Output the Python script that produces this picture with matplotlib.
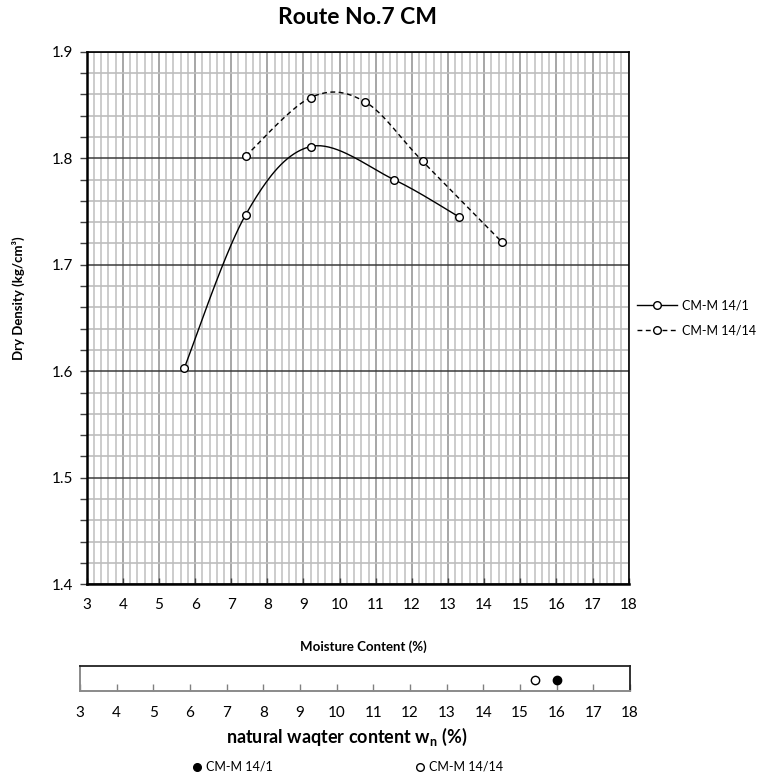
import numpy as np
import matplotlib
matplotlib.use("Agg")
import matplotlib.pyplot as plt
from matplotlib.lines import Line2D
from matplotlib.ticker import MultipleLocator, FixedLocator

plt.rcParams['font.family'] = ['Lato', 'DejaVu Sans']
plt.rcParams['mathtext.fontset'] = 'custom'
plt.rcParams['mathtext.rm'] = 'Lato'
plt.rcParams['mathtext.bf'] = 'Lato:bold'
plt.rcParams['mathtext.it'] = 'Lato:italic'

# Compaction test results
moisture_14_1 = [5.7, 7.4, 9.2, 11.5, 13.3]
density_14_1 = [1.603, 1.747, 1.811, 1.780, 1.745]
moisture_14_14 = [7.4, 9.2, 10.7, 12.3, 14.5]
density_14_14 = [1.802, 1.857, 1.853, 1.797, 1.721]

# Natural water content of each sample
natural_wc = {"CM-M 14/1": 16.0, "CM-M 14/14": 15.4}

series_names = ["CM-M 14/1", "CM-M 14/14"]
x_ticks = list(range(3, 19))
y_ticks = [1.4, 1.5, 1.6, 1.7, 1.8, 1.9]

XMIN, XMAX = 3, 18
YMIN, YMAX = 1.4, 1.9

AX_W, AX_H = 0.7075, 0.6828
FIG_W, FIG_H = 7.66, 7.80


def smooth(xs, ys, n=40):
    """Catmull-Rom style Bezier spline through the points, in display proportions."""
    xs = np.asarray(xs, float)
    ys = np.asarray(ys, float)
    sxs = AX_W * FIG_W / (XMAX - XMIN)
    sys_ = AX_H * FIG_H / (YMAX - YMIN)
    P = np.column_stack([(xs - XMIN) * sxs, (ys - YMIN) * sys_])
    P = np.vstack([P[0], P, P[-1]])
    out = []
    for i in range(1, len(P) - 2):
        p0, p1, p2, p3 = P[i - 1], P[i], P[i + 1], P[i + 2]
        c1 = p1 + (p2 - p0) / 6.0
        c2 = p2 - (p3 - p1) / 6.0
        t = np.linspace(0, 1, n)[:, None]
        seg = ((1 - t) ** 3) * p1 + 3 * ((1 - t) ** 2) * t * c1 + 3 * (1 - t) * t ** 2 * c2 + t ** 3 * p2
        out.append(seg if i == 1 else seg[1:])
    out = np.vstack(out)
    return out[:, 0] / sxs + XMIN, out[:, 1] / sys_ + YMIN


fig = plt.figure(figsize=(FIG_W, FIG_H), dpi=100)
ax = fig.add_axes([0.1132, 0.2509, AX_W, AX_H])

ax.set_xlim(XMIN, XMAX)
ax.set_ylim(YMIN, YMAX)

# Grid
ax.xaxis.set_major_locator(FixedLocator(x_ticks))
ax.xaxis.set_minor_locator(MultipleLocator(0.2))
ax.yaxis.set_major_locator(FixedLocator(y_ticks))
ax.yaxis.set_minor_locator(MultipleLocator(0.02))
ax.grid(which='minor', axis='x', color='#c4c4c4', linewidth=1.2)
ax.grid(which='major', axis='x', color='#8e8e8e', linewidth=1.1)
ax.grid(which='minor', axis='y', color='#bdbdbd', linewidth=1.2)
ax.grid(which='major', axis='y', color='#3a3a3a', linewidth=1.1)
ax.set_axisbelow(True)

ax.tick_params(axis='x', which='major', direction='in', length=4, width=1, color='#404040',
               labelsize=11, pad=10)
ax.tick_params(axis='x', which='minor', length=0)
ax.tick_params(axis='y', which='both', direction='out', length=5, width=1, color='#404040',
               labelsize=11, pad=5)
ax.set_xticklabels([str(t) for t in x_ticks])
ax.set_yticklabels([f"{t:.1f}" for t in y_ticks])

for side in ['left', 'bottom']:
    ax.spines[side].set_linewidth(1.8)
for side in ['top', 'right']:
    ax.spines[side].set_linewidth(1.2)

# Curves
sx1, sy1 = smooth(moisture_14_1, density_14_1)
sx2, sy2 = smooth(moisture_14_14, density_14_14)
ax.plot(sx1, sy1, color='black', linewidth=1.0, solid_capstyle='butt')
ax.plot(sx2, sy2, color='black', linewidth=1.0, dashes=(3.5, 2.5))
ax.plot(moisture_14_1, density_14_1, linestyle='none', marker='o', markersize=5.5,
        markerfacecolor='white', markeredgecolor='black', markeredgewidth=1.0)
ax.plot(moisture_14_14, density_14_14, linestyle='none', marker='o', markersize=5.5,
        markerfacecolor='white', markeredgecolor='black', markeredgewidth=1.0)

handles = [
    Line2D([], [], color='black', linewidth=1.0, marker='o', markersize=5.5,
           markerfacecolor='white', markeredgecolor='black'),
    Line2D([], [], color='black', linewidth=1.0, dashes=(3.5, 2.5), marker='o', markersize=5.5,
           markerfacecolor='white', markeredgecolor='black'),
]
ax.legend(handles, series_names, loc='center left', bbox_to_anchor=(0.995, 0.5),
          frameon=False, fontsize=9, handlelength=3.2, handletextpad=0.4, labelspacing=1.0)

fig.text(0.467, 0.977, "Route No.7 CM", ha='center', va='center', fontsize=16.5, fontweight='bold')
fig.text(0.024, 0.618, "Dry Density (kg/cm³)", rotation=90, ha='center', va='center',
         fontsize=9.5, fontweight='bold')
fig.text(0.475, 0.1705, "Moisture Content (%)", ha='center', va='center', fontsize=9.5,
         fontweight='bold')

# Natural water content strip
bx = fig.add_axes([0.1044, 0.1141, 0.718, 0.0324])
bx.set_xlim(XMIN, XMAX)
bx.set_ylim(0, 1)
bx.set_yticks([])
bx.xaxis.set_major_locator(FixedLocator(x_ticks))
bx.set_xticklabels([str(t) for t in x_ticks])
bx.tick_params(axis='x', direction='in', length=5, width=1, color='#808080', labelsize=11, pad=11)
for side in ['left', 'bottom']:
    bx.spines[side].set_color('#8a8a8a')
    bx.spines[side].set_linewidth(1.4)
for side in ['top', 'right']:
    bx.spines[side].set_color('#222222')
    bx.spines[side].set_linewidth(1.3)

bx.plot([natural_wc["CM-M 14/1"]], [0.45], linestyle='none', marker='o', markersize=6,
        markerfacecolor='black', markeredgecolor='black')
bx.plot([natural_wc["CM-M 14/14"]], [0.45], linestyle='none', marker='o', markersize=6,
        markerfacecolor='white', markeredgecolor='black', markeredgewidth=1.0)

fig.text(0.453, 0.055, r"natural waqter content $\mathbf{w_n}$ (%)", ha='center', va='center',
         fontsize=13, fontweight='bold')

strip_handles = [
    Line2D([], [], linestyle='none', marker='o', markersize=5.5, markerfacecolor='black',
           markeredgecolor='black'),
    Line2D([], [], linestyle='none', marker='o', markersize=5.5, markerfacecolor='white',
           markeredgecolor='black'),
]
fig.legend(strip_handles, series_names, loc='center', bbox_to_anchor=(0.4544, 0.0167),
           ncol=2, frameon=False, fontsize=9, handlelength=0.6, handletextpad=0.4,
           columnspacing=11.46)

fig.savefig("out.png", dpi=100)
